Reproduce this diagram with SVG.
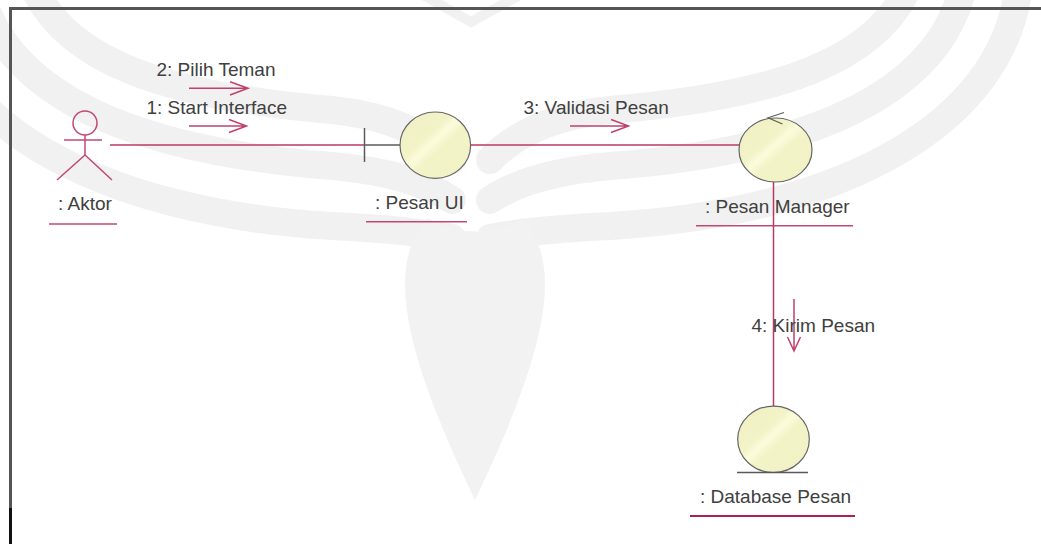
<svg xmlns="http://www.w3.org/2000/svg" width="1041" height="544" viewBox="0 0 1041 544">
  <defs>
    <linearGradient id="objFill" x1="0" y1="0" x2="1" y2="1">
      <stop offset="0" stop-color="#efefc3"/>
      <stop offset="0.38" stop-color="#f3f3c8"/>
      <stop offset="0.46" stop-color="#fcfcdc"/>
      <stop offset="0.56" stop-color="#f3f3c8"/>
      <stop offset="1" stop-color="#f1f1c5"/>
    </linearGradient>
    <style>
      .wm { fill: none; stroke: #f1f1f1; stroke-width: 28; stroke-linecap: round; }
      .wmf { fill: #f2f2f2; }
      .frame { fill: none; stroke: #555555; stroke-width: 3; }
      .obj { fill: url(#objFill); stroke: #666666; stroke-width: 1.2; }
      .sym { fill: none; stroke: #5a5a5a; stroke-width: 1.5; }
      .conn { fill: none; stroke: #b83a63; stroke-width: 1.5; }
      .msg { fill: none; stroke: #c0416c; stroke-width: 1.5; }
      .actor { fill: none; stroke: #c24a72; stroke-width: 1.5; }
      .uline { stroke: #c24a72; stroke-width: 1.6; }
      .lbl { font-family: "Liberation Sans", Arial, sans-serif; font-size: 19px; fill: #404040; }
    </style>
  </defs>

  <rect width="1041" height="544" fill="#ffffff"/>

  <!-- background emblem -->
  <g id="emblem">
    <g id="wing-right">
      <path class="wm" d="M 1018,-8 C 1000,120 850,212 610,226 Q 530,230 490,238"/>
      <path class="wm" d="M 962,-8 C 935,90 820,150 610,166 Q 530,173 490,200"/>
      <path class="wm" d="M 906,-8 C 872,60 780,96 610,110 Q 530,118 490,160"/>
    </g>
    <g id="wing-left" transform="matrix(-1 0 0 1 942 0)">
      <path class="wm" d="M 1018,-8 C 1000,120 850,212 610,226 Q 530,230 490,238"/>
      <path class="wm" d="M 962,-8 C 935,90 820,150 610,166 Q 530,173 490,200"/>
      <path class="wm" d="M 906,-8 C 872,60 780,96 610,110 Q 530,118 490,160"/>
    </g>
    <path class="wmf" d="M 428,218 C 388,262 398,340 475,500 C 552,340 562,262 522,218 C 500,236 450,236 428,218 Z"/>
    <path class="wm" style="stroke-width:10" d="M 425,-4 L 471,22 L 518,-4"/>
  </g>

  <!-- frame -->
  <path class="frame" d="M 10.5,544 L 10.5,8.5 L 1041,8.5"/>
  <line x1="10.5" y1="508" x2="10.5" y2="544" stroke="#111111" stroke-width="3"/>

  <!-- actor -->
  <g id="aktor">
    <circle class="actor" cx="85" cy="123" r="12"/>
    <line class="actor" x1="85" y1="135" x2="85" y2="155"/>
    <line class="actor" x1="64" y1="140" x2="102" y2="140"/>
    <path class="actor" d="M 57,180 L 85,155 L 112,180"/>
    <text class="lbl" x="58" y="210">: Aktor</text>
    <line class="uline" x1="49" y1="224" x2="117" y2="224"/>
  </g>

  <!-- boundary object -->
  <g id="pesan-ui">
    <line class="sym" x1="364.5" y1="128" x2="364.5" y2="162"/>
    <line class="sym" x1="364.5" y1="145" x2="400" y2="145"/>
    <ellipse class="obj" cx="435.3" cy="145.2" rx="35.3" ry="33.2"/>
    <text class="lbl" x="375" y="208.5">: Pesan UI</text>
    <line class="uline" x1="366" y1="221.7" x2="467" y2="221.7"/>
  </g>

  <!-- control object -->
  <g id="pesan-manager">
    <ellipse class="obj" cx="775.5" cy="150" rx="36.5" ry="32"/>
    <path class="sym" style="stroke-width:1.1" d="M 784,112.5 L 768,117.8 L 782.5,124"/>
    <text class="lbl" x="705" y="212.5">: Pesan Manager</text>
    <line class="uline" x1="696" y1="225.7" x2="853" y2="225.7"/>
  </g>

  <!-- entity object -->
  <g id="database-pesan">
    <ellipse class="obj" cx="773.5" cy="439.3" rx="35.8" ry="33.2"/>
    <line class="sym" x1="737" y1="472.5" x2="808" y2="472.5"/>
    <text class="lbl" x="700" y="502.7">: Database Pesan</text>
    <line class="uline" style="stroke:#a8244f;stroke-width:2" x1="690" y1="516" x2="855" y2="516"/>
  </g>

  <!-- links and messages -->
  <g id="connectors">
    <line class="conn" x1="110" y1="145" x2="364" y2="145"/>
    <line class="conn" x1="471" y1="145" x2="739" y2="145"/>
    <line class="conn" x1="773.5" y1="182" x2="773.5" y2="406"/>

    <path class="msg" d="M 189,88.3 L 248,88.3 M 230,81.7 L 248,88.3 L 230,95"/>
    <text class="lbl" x="156.5" y="76">2: Pilih Teman</text>

    <path class="msg" d="M 189,126 L 246.5,126 M 229,119.5 L 246.5,126 L 229,132.5"/>
    <text class="lbl" x="146.5" y="114.3">1: Start Interface</text>

    <path class="msg" d="M 570,126 L 628.5,126 M 611,119.5 L 628.5,126 L 611,132.5"/>
    <text class="lbl" x="523.5" y="114.3">3: Validasi Pesan</text>

    <path class="msg" d="M 794,299 L 794,351 M 787.5,337 L 794,351 L 800.5,337"/>
    <text class="lbl" x="751.5" y="331.7">4: Kirim Pesan</text>
  </g>
</svg>
